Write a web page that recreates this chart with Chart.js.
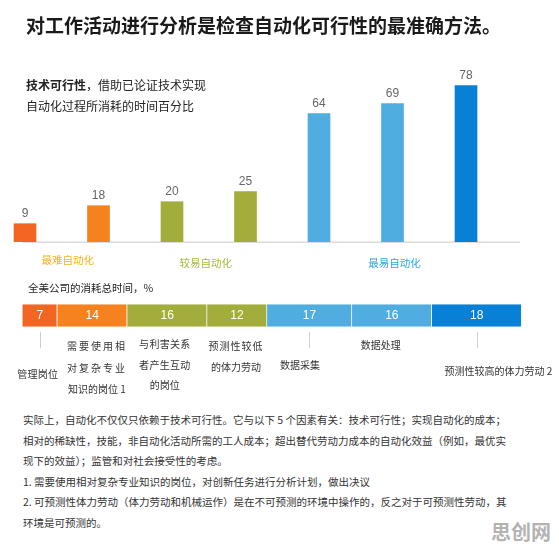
<!DOCTYPE html>
<html lang="zh">
<head>
<meta charset="utf-8">
<title>自动化可行性</title>
<script src="https://cdn.jsdelivr.net/npm/chart.js@4.4.1/dist/chart.umd.min.js"></script>
<style>
    html, body { margin: 0; padding: 0; background: #fff; }
    #page { position: relative; width: 559px; height: 552px; overflow: hidden; font-family: "Noto Sans CJK SC", "Noto Sans", sans-serif; color: #222; }
    .txt { position: absolute; white-space: nowrap; z-index: 2; }
    #title { left: 26px; top: 12px; font-size: 19px; font-weight: bold; line-height: 26px; color: #1a1a1a; }
    #sub { left: 26px; top: 74px; font-size: 12px; line-height: 21px; color: #222; }
    #totalTitle { left: 28px; top: 280px; font-size: 10.5px; line-height: 15px; color: #222; }
    #para { left: 23px; top: 410px; font-size: 10.5px; line-height: 20.6px; color: #333; }
    #mark { left: 491px; top: 518px; font-size: 20px; font-weight: bold; line-height: 28px; color: #b3b3b3; }
    canvas { position: absolute; left: 0; z-index: 1; }
</style>
</head>
<body>
<div id="page">
    <div id="title" class="txt">对工作活动进行分析是检查自动化可行性的最准确方法。</div>
    <div id="sub" class="txt"><b>技术可行性</b>，借助已论证技术实现<br>自动化过程所消耗的时间百分比</div>
    <canvas id="feasChart" width="559" height="280" style="top:0"></canvas>
    <div id="totalTitle" class="txt">全美公司的消耗总时间，%</div>
    <canvas id="timeChart" width="559" height="120" style="top:280px"></canvas>
    <div id="para" class="txt">实际上，自动化不仅仅只依赖于技术可行性。它与以下 5 个因素有关：技术可行性；实现自动化的成本；<br>相对的稀缺性，技能，非自动化活动所需的工人成本；超出替代劳动力成本的自动化效益（例如，最优实<br>现下的效益）；监管和对社会接受性的考虑。<br>1. 需要使用相对复杂专业知识的岗位，对创新任务进行分析计划，做出决议<br>2. 可预测性体力劳动（体力劳动和机械运作）是在不可预测的环境中操作的，反之对于可预测性劳动，其<br>环境是可预测的。</div>
    <div id="mark" class="txt">思创网</div>
</div>
<script>
// 数据
const groupNames = ['最难自动化', '较易自动化', '最易自动化'];
const barGroup = [0, 0, 1, 1, 2, 2, 2];
const activities = [
    ['管理岗位'],
    ['需要使用相', '对复杂专业', '知识的岗位 1'],
    ['与利害关系', '者产生互动', '的岗位'],
    ['预测性较低', '的体力劳动'],
    ['数据采集'],
    ['数据处理'],
    ['预测性较高的体力劳动 2']
];
const feasibility = [9, 18, 20, 25, 64, 69, 78];   // 技术可行性 %
const timeShare = [7, 14, 16, 12, 17, 16, 18];     // 消耗总时间 %

// 样式
const barColors = ['#f26522', '#f5821f', '#a2ad3b', '#a2ad3b', '#50ade0', '#50ade0', '#0780d5'];
const groupColors = ['#f6b31c', '#a6ba3e', '#2da6dd'];
const groupDx = [6, -3, 2];
const groupDy = [18, 21, 21];
const cjkFont = '"Noto Sans CJK SC", sans-serif';
const numFont = '"Liberation Sans", Arial, sans-serif';

const activityNames = activities.map(a => a.join(''));

// 柱状图：数值、基线和分组标签
const barDecor = {
    id: 'barDecor',
    beforeDatasetsDraw(chart) {
        const ctx = chart.ctx;
        const y0 = chart.scales.y.getPixelForValue(0);
        ctx.save();
        ctx.strokeStyle = '#dcdcdc';
        ctx.lineWidth = 1.5;
        ctx.beginPath();
        ctx.moveTo(chart.chartArea.left - 2, y0 + 0.5);
        ctx.lineTo(chart.chartArea.right + 54, y0 + 0.5);
        ctx.stroke();
        ctx.restore();
    },
    afterDatasetsDraw(chart) {
        const ctx = chart.ctx;
        const bars = chart.getDatasetMeta(0).data;
        const y0 = chart.scales.y.getPixelForValue(0);
        ctx.save();
        ctx.textAlign = 'center';
        ctx.textBaseline = 'middle';
        ctx.fillStyle = '#666';
        ctx.font = '12px ' + numFont;
        bars.forEach((b, i) => ctx.fillText(feasibility[i], b.x, b.y - 10));

        ctx.font = '10.5px ' + cjkFont;
        groupNames.forEach((name, g) => {
            const xs = bars.filter((b, i) => barGroup[i] === g).map(b => b.x);
            const cx = xs.reduce((s, x) => s + x, 0) / xs.length;
            ctx.fillStyle = groupColors[g];
            ctx.fillText(name, cx + groupDx[g], y0 + groupDy[g]);
        });
        ctx.restore();
    }
};

new Chart(document.getElementById('feasChart'), {
    type: 'bar',
    data: {
        labels: activityNames,
        datasets: [{
            data: feasibility,
            backgroundColor: barColors,
            barThickness: 22,
            clip: false
        }]
    },
    options: {
        responsive: false,
        animation: false,
        layout: { padding: { left: 25, right: 93, top: 41.7, bottom: 38.3 } },
        plugins: { legend: { display: false }, tooltip: { enabled: false } },
        scales: {
            x: { display: false, offset: false },
            y: { display: false, min: 0, max: 100 }
        }
    },
    plugins: [barDecor]
});

// 堆叠条：数值、引线和岗位说明
const labelDx = [-2, 4.7, -2.3, -1, -9.5, -11, 21.6];
const labelDy = [[47.6], [20, 41.6, 62.6], [17.6, 38.3, 58.3], [20, 41], [38.3], [19], [45]];
const labelSpacing = [[0.3], [2, 2, 0], [0.3, 0.3, 0], [1, 0], [0], [0], [0]];
const tickSegs = [0, 4, 6];

const segDecor = {
    id: 'segDecor',
    afterDatasetsDraw(chart) {
        const ctx = chart.ctx;
        ctx.save();
        let bottom = 0;
        const centers = timeShare.map((v, i) => {
            const el = chart.getDatasetMeta(i).data[0];
            const c = el.getCenterPoint();
            bottom = c.y + el.height / 2;
            return c;
        });
        ctx.textAlign = 'center';
        ctx.textBaseline = 'middle';
        ctx.fillStyle = '#fff';
        ctx.font = '12px ' + numFont;
        centers.forEach((c, i) => ctx.fillText(timeShare[i], c.x, c.y + 0.5));

        ctx.strokeStyle = '#cfcfcf';
        ctx.lineWidth = 1;
        tickSegs.forEach(i => {
            const x = Math.round(centers[i].x) + 0.5;
            ctx.beginPath();
            ctx.moveTo(x, bottom + 5);
            ctx.lineTo(x, bottom + 21.6);
            ctx.stroke();
        });

        ctx.fillStyle = '#333';
        ctx.font = '10px ' + cjkFont;
        activities.forEach((lines, i) => {
            lines.forEach((line, j) => {
                ctx.letterSpacing = labelSpacing[i][j] + 'px';
                ctx.fillText(line, centers[i].x + labelDx[i], bottom + labelDy[i][j]);
            });
        });
        ctx.restore();
    }
};

new Chart(document.getElementById('timeChart'), {
    type: 'bar',
    data: {
        labels: ['全美公司'],
        datasets: timeShare.map((v, i) => ({
            label: activityNames[i],
            data: [v],
            backgroundColor: barColors[i],
            borderColor: '#ffffff',
            borderWidth: { top: 0, right: 1, bottom: 0, left: 0 },
            borderSkipped: false,
            barThickness: 22.4
        }))
    },
    options: {
        indexAxis: 'y',
        responsive: false,
        animation: false,
        layout: { padding: { left: 22.3, right: 37.3, top: 24.3, bottom: 73.3 } },
        plugins: { legend: { display: false }, tooltip: { enabled: false } },
        scales: {
            x: { display: false, stacked: true, min: 0, max: 100 },
            y: { display: false, stacked: true }
        }
    },
    plugins: [segDecor]
});
</script>
</body>
</html>
